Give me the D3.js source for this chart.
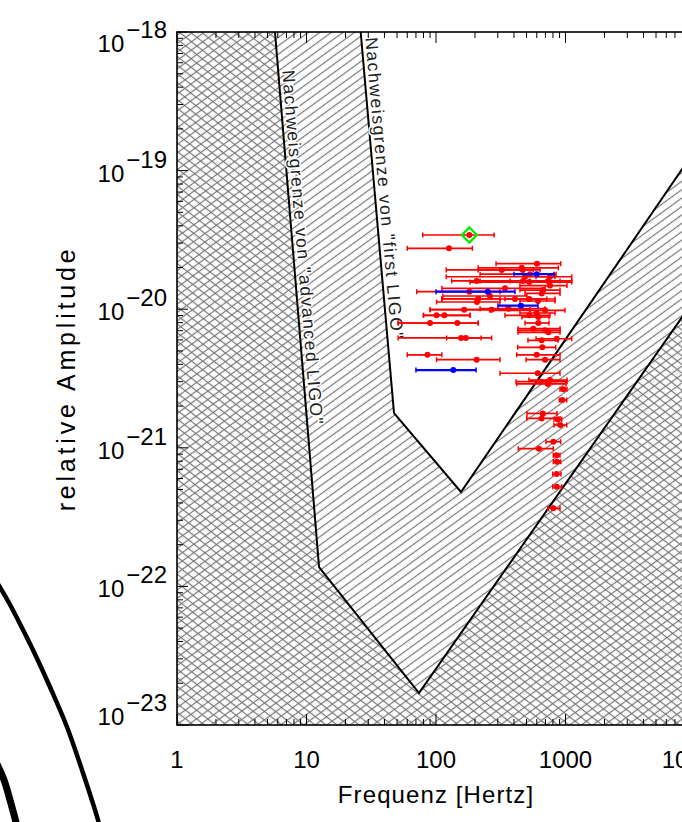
<!DOCTYPE html>
<html><head><meta charset="utf-8">
<script src="https://cdn.jsdelivr.net/npm/d3@7"></script>
<style>
html,body{margin:0;padding:0;background:#fff;}
svg{display:block;}
text{font-family:"Liberation Sans",Arial,sans-serif;}
</style></head><body>
<svg id="chart" width="682" height="822"></svg>
<script>
// ---------- data ----------
const xTickValues = [1, 10, 100, 1000, 10000];
const xTickLabels = ["1", "10", "100", "1000", "10000"];
const yTickValues = [1e-18, 1e-19, 1e-20, 1e-21, 1e-22, 1e-23];
const yTickExponents = ["\u221218", "\u221219", "\u221220", "\u221221", "\u221222", "\u221223"];
const xTitle = "Frequenz [Hertz]";
const yTitle = "relative Amplitude";
const advancedLabel = 'Nachweisgrenze von "advanced LIGO"';
const firstLabel = 'Nachweisgrenze von "first LIGO"';

// detection limits [frequency Hz, amplitude]
const advancedFreq = [5.71, 12.5, 73.9, 10000];
const advancedAmp  = [1e-18, 1.38e-22, 1.70e-23, 1.19e-20];
const firstFreq = [26.2, 47.4, 156, 10000];
const firstAmp  = [1e-18, 1.78e-21, 4.8e-22, 1.40e-19];

// red sources: centre frequency, lower/upper frequency, amplitude
const redFreq = [181,126,602,459,467,322,532,487,759,206,470,525,733,759,341,674,181,655,261,407,525,212,207,613,165,269,362,695,599,525,101,116,617,90,146,617,564,695,737,156,170,855,655,662,86,599,206,695,610,759,643,729,962,945,667,655,865,912,805,624,855,860,855,855,805];
const redLo = [79,60,291,212,120,211,219,120,592,132,219,183,532,445,111,445,71,487,113,111,341,111,101,445,90,90,219,261,445,341,80,80,461,51,51,487,430,430,430,51,121,592,513,428,60,420,101,496,312,522,415,420,907,896,504,502,815,815,707,432,805,805,797,797,729];
const redHi = [281,191,918,880,564,636,845,830,1117,373,907,1117,1117,1027,695,907,312,907,504,716,830,312,312,830,532,532,695,991,830,759,183,183,746,212,212,746,907,907,907,269,223,1117,875,840,111,907,312,907,907,1027,1027,1009,1027,1022,860,907,935,1022,918,805,907,918,923,935,907];
const redAmp = [3.43e-20,2.75e-20,2.13e-20,1.99e-20,1.92e-20,1.92e-20,1.79e-20,1.715e-20,1.715e-20,1.60e-20,1.60e-20,1.57e-20,1.60e-20,1.48e-20,1.415e-20,1.375e-20,1.337e-20,1.30e-20,1.245e-20,1.185e-20,1.185e-20,1.19e-20,1.127e-20,1.146e-20,9.92e-21,9.92e-21,1.008e-20,9.82e-21,9.39e-21,9.04e-21,9.04e-21,9.04e-21,8.79e-21,7.95e-21,7.95e-21,7.95e-21,7.23e-21,7.04e-21,6.81e-21,6.20e-21,6.20e-21,6.12e-21,5.96e-21,5.31e-21,4.69e-21,4.69e-21,4.32e-21,4.32e-21,3.45e-21,3.08e-21,3.0e-21,2.89e-21,2.64e-21,2.21e-21,1.77e-21,1.63e-21,1.605e-21,1.46e-21,1.107e-21,9.85e-22,8.83e-22,7.94e-22,6.47e-22,5.24e-22,3.66e-22];

// blue sources
const blueFreq = [599, 251, 453, 136];
const blueLo   = [400, 100, 301, 70];
const blueHi   = [815, 407, 613, 204];
const blueAmp  = [1.79e-20, 1.337e-20, 1.06e-20, 3.64e-21];

// green highlighted source
const greenFreq = [181];
const greenAmp  = [3.43e-20];

// decorative arcs at the lower left of the page (page pixels)
const arcOuter = [[-2,584],[8,601],[18,620],[33,650],[50,687],[67,727],[83,773],[98,820],[101,832]];
const arcInner = [[-4,762],[4,780],[10,800],[17,826]];

// ---------- drawing ----------
const svg = d3.select("#chart");
const L = 177, R = 695, T = 32, B = 725;
const x = d3.scaleLog().domain([1, 10000]).range([L, R]);
const y = d3.scaleLog().domain([1e-23, 1e-18]).range([B, T]);

const defs = svg.append("defs");
defs.append("clipPath").attr("id", "plotclip")
  .append("rect").attr("x", L).attr("y", T).attr("width", R - L).attr("height", B - T);

function hatch(id, angle, spacing) {
  const p = defs.append("pattern").attr("id", id)
    .attr("patternUnits", "userSpaceOnUse")
    .attr("width", 20).attr("height", spacing)
    .attr("patternTransform", `rotate(${angle})`);
  p.append("line").attr("x1", -1).attr("x2", 21)
    .attr("y1", spacing / 2).attr("y2", spacing / 2)
    .attr("stroke", "#777").attr("stroke-width", 1.2);
}
hatch("fwd", -36, 6.8);
hatch("back", 38, 6.8);

const plot = svg.append("g").attr("clip-path", "url(#plotclip)");
const line = d3.line().x(d => x(d[0])).y(d => y(d[1]));

const adv = advancedFreq.map((f, i) => [f, advancedAmp[i]]);
const fst = firstFreq.map((f, i) => [f, firstAmp[i]]);
const corners = [[10000, 1e-23], [1, 1e-23], [1, 1e-18]];

plot.append("path").attr("d", line([[1, 1e-18], ...fst, ...corners]) + "Z")
  .attr("fill", "url(#fwd)").attr("stroke", "none");
plot.append("path").attr("d", line([[1, 1e-18], ...adv, ...corners]) + "Z")
  .attr("fill", "url(#back)").attr("stroke", "none");

plot.append("path").attr("d", line(adv)).attr("fill", "none")
  .attr("stroke", "#000").attr("stroke-width", 2);
plot.append("path").attr("d", line(fst)).attr("fill", "none")
  .attr("stroke", "#000").attr("stroke-width", 2);

function lineLabel(pts, text, startDist, offset) {
  const a = [x(pts[0][0]), y(pts[0][1])], b = [x(pts[1][0]), y(pts[1][1])];
  const dx = b[0] - a[0], dy = b[1] - a[1], len = Math.hypot(dx, dy);
  const ux = dx / len, uy = dy / len;
  const px = a[0] + ux * startDist + uy * offset;
  const py = a[1] + uy * startDist - ux * offset;
  const ang = Math.atan2(uy, ux) * 180 / Math.PI;
  plot.append("text")
    .attr("transform", `translate(${px},${py}) rotate(${ang})`)
    .attr("font-size", 17.5).attr("letter-spacing", 1.6)
    .attr("fill", "#222").attr("stroke", "#fff").attr("stroke-width", 3)
    .attr("paint-order", "stroke").attr("stroke-linejoin", "round")
    .text(text);
}
lineLabel(adv, advancedLabel, 39, 4);
lineLabel(fst, firstLabel, 6, 4);

// error bars and points
function series(freq, lo, hi, amp, color, w) {
  const g = plot.append("g");
  freq.forEach((f, i) => {
    const yy = y(amp[i]);
    g.append("line").attr("x1", x(lo[i])).attr("x2", x(hi[i]))
      .attr("y1", yy).attr("y2", yy).attr("stroke", color).attr("stroke-width", w);
    [lo[i], hi[i]].forEach(v => g.append("line")
      .attr("x1", x(v)).attr("x2", x(v)).attr("y1", yy - 2.5).attr("y2", yy + 2.5)
      .attr("stroke", color).attr("stroke-width", 1.5));
  });
  freq.forEach((f, i) => {
    g.append("circle").attr("cx", x(f)).attr("cy", y(amp[i])).attr("r", 3).attr("fill", color);
  });
}
series(redFreq, redLo, redHi, redAmp, "#ff0000", 1.7);
series(blueFreq, blueLo, blueHi, blueAmp, "#0000ff", 2.2);

greenFreq.forEach((f, i) => {
  const cx = x(f), cy = y(greenAmp[i]), s = 7.5;
  plot.append("path")
    .attr("d", `M${cx},${cy - s}L${cx + s},${cy}L${cx},${cy + s}L${cx - s},${cy}Z`)
    .attr("fill", "none").attr("stroke", "#00ee00").attr("stroke-width", 2.4);
});

// frame and ticks
svg.append("rect").attr("x", L).attr("y", T).attr("width", R - L).attr("height", B - T)
  .attr("fill", "none").attr("stroke", "#000").attr("stroke-width", 1.6);

const ticks = svg.append("g").attr("stroke", "#000").attr("stroke-width", 1);
const xMinor = [], yMinor = [];
xTickValues.slice(0, -1).forEach(d => { for (let k = 2; k <= 9; k++) xMinor.push(k * d); });
yTickValues.slice(1).forEach(d => { for (let k = 2; k <= 9; k++) yMinor.push(k * d); });
xTickValues.forEach(v => {
  ticks.append("line").attr("x1", x(v)).attr("x2", x(v)).attr("y1", B).attr("y2", B - 11);
  ticks.append("line").attr("x1", x(v)).attr("x2", x(v)).attr("y1", T).attr("y2", T + 11);
});
xMinor.forEach(v => {
  ticks.append("line").attr("x1", x(v)).attr("x2", x(v)).attr("y1", B).attr("y2", B - 6);
  ticks.append("line").attr("x1", x(v)).attr("x2", x(v)).attr("y1", T).attr("y2", T + 6);
});
yTickValues.forEach(v => {
  ticks.append("line").attr("x1", L).attr("x2", L + 11).attr("y1", y(v)).attr("y2", y(v));
  ticks.append("line").attr("x1", R).attr("x2", R - 11).attr("y1", y(v)).attr("y2", y(v));
});
yMinor.forEach(v => {
  ticks.append("line").attr("x1", L).attr("x2", L + 6).attr("y1", y(v)).attr("y2", y(v));
  ticks.append("line").attr("x1", R).attr("x2", R - 6).attr("y1", y(v)).attr("y2", y(v));
});

// tick labels
xTickValues.forEach((v, i) => {
  svg.append("text").attr("x", x(v)).attr("y", 768).attr("text-anchor", "middle")
    .attr("font-size", 24).attr("fill", "#000").text(xTickLabels[i]);
});
yTickValues.forEach((v, i) => {
  const base = Math.max(52, Math.min(B, y(v) + 11));
  const t = svg.append("text").attr("x", 167).attr("y", base).attr("text-anchor", "end")
    .attr("font-size", 24).attr("fill", "#000");
  t.append("tspan").text("10");
  t.append("tspan").attr("dy", -14).attr("dx", 2).text(yTickExponents[i]);
});

// titles
svg.append("text").attr("x", (L + R) / 2).attr("y", 803).attr("text-anchor", "middle")
  .attr("font-size", 24).attr("letter-spacing", 1.1).attr("fill", "#000").text(xTitle);
svg.append("text").attr("transform", `translate(75,${(T + B) / 2}) rotate(-90)`)
  .attr("text-anchor", "middle").attr("font-size", 25).attr("letter-spacing", 3.8)
  .attr("fill", "#000").text(yTitle);

// decorative arcs
const arcLine = d3.line().curve(d3.curveCatmullRom);
svg.append("path").attr("d", arcLine(arcOuter)).attr("fill", "none")
  .attr("stroke", "#000").attr("stroke-width", 4.5);
svg.append("path").attr("d", arcLine(arcInner)).attr("fill", "none")
  .attr("stroke", "#000").attr("stroke-width", 7);
</script>
</body></html>
